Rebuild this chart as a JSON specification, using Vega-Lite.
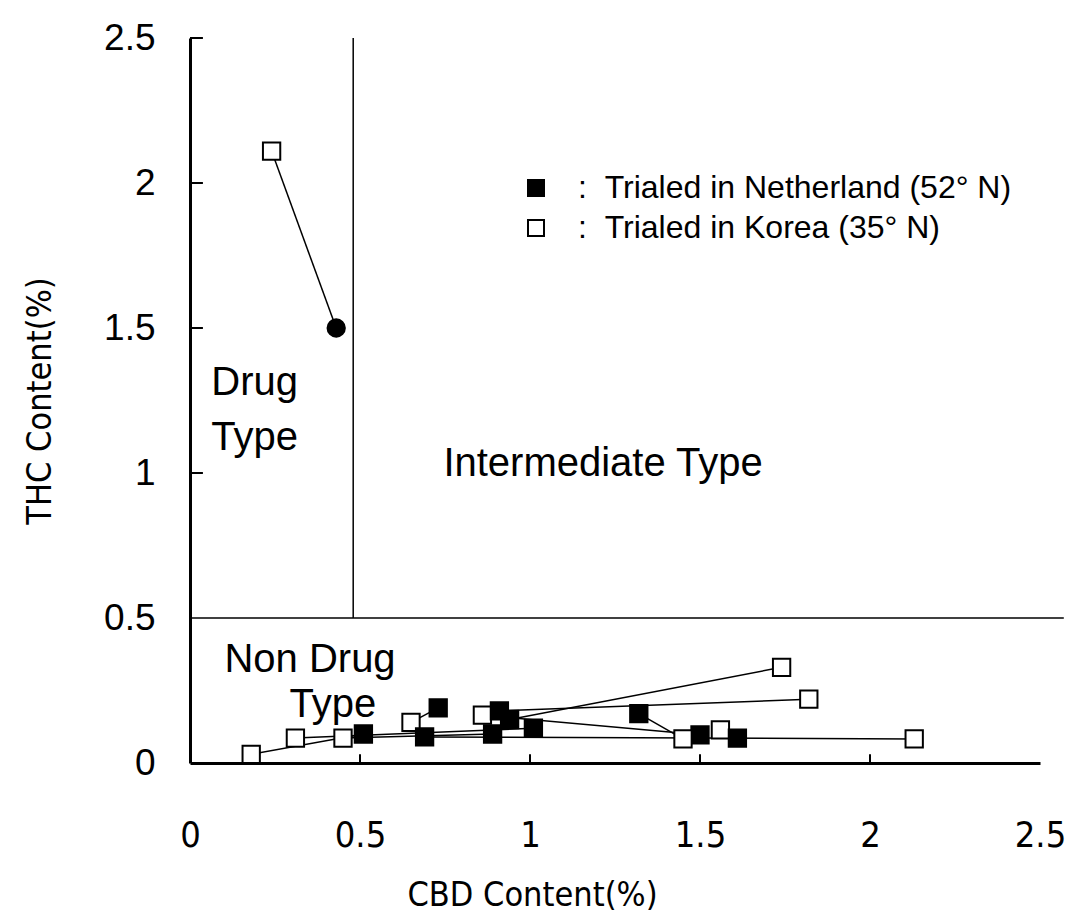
{
  "$schema": "https://vega.github.io/schema/vega-lite/v6.json",
  "autosize": {"type": "none"},
  "width": 850,
  "height": 725,
  "padding": {"left": 190, "top": 38, "right": 29, "bottom": 158},
  "background": "white",
  "config": {
    "view": {"stroke": null},
    "axis": {
      "domainColor": "black", "domainWidth": 3, "tickColor": "black", "tickWidth": 1.5,
      "grid": false, "labelColor": "black", "titleColor": "black", "titleFontWeight": "normal"
    }
  },
  "datasets": {
    "samples": [
      {"pair": "A", "loc": "Korea", "cbd": 0.24, "thc": 2.11, "marker": "square"},
      {"pair": "A", "loc": "Netherland", "cbd": 0.43, "thc": 1.50, "marker": "circle"},
      {"pair": "B", "loc": "Korea", "cbd": 0.18, "thc": 0.03, "marker": "square"},
      {"pair": "B", "loc": "Netherland", "cbd": 0.51, "thc": 0.10, "marker": "square"},
      {"pair": "C", "loc": "Korea", "cbd": 0.31, "thc": 0.086, "marker": "square"},
      {"pair": "C", "loc": "Netherland", "cbd": 1.01, "thc": 0.12, "marker": "square"},
      {"pair": "D", "loc": "Korea", "cbd": 0.45, "thc": 0.086, "marker": "square"},
      {"pair": "D", "loc": "Netherland", "cbd": 0.89, "thc": 0.10, "marker": "square"},
      {"pair": "E", "loc": "Korea", "cbd": 0.65, "thc": 0.14, "marker": "square"},
      {"pair": "E", "loc": "Netherland", "cbd": 0.73, "thc": 0.19, "marker": "square"},
      {"pair": "F", "loc": "Korea", "cbd": 0.86, "thc": 0.165, "marker": "square"},
      {"pair": "F", "loc": "Netherland", "cbd": 1.50, "thc": 0.097, "marker": "square"},
      {"pair": "G", "loc": "Korea", "cbd": 1.74, "thc": 0.33, "marker": "square"},
      {"pair": "G", "loc": "Netherland", "cbd": 0.94, "thc": 0.15, "marker": "square"},
      {"pair": "H", "loc": "Korea", "cbd": 1.82, "thc": 0.22, "marker": "square"},
      {"pair": "H", "loc": "Netherland", "cbd": 0.91, "thc": 0.18, "marker": "square"},
      {"pair": "I", "loc": "Korea", "cbd": 1.45, "thc": 0.083, "marker": "square"},
      {"pair": "I", "loc": "Netherland", "cbd": 1.32, "thc": 0.17, "marker": "square"},
      {"pair": "J", "loc": "Korea", "cbd": 2.13, "thc": 0.083, "marker": "square"},
      {"pair": "J", "loc": "Netherland", "cbd": 0.69, "thc": 0.09, "marker": "square"},
      {"pair": "K", "loc": "Korea", "cbd": 1.56, "thc": 0.114, "marker": "square"},
      {"pair": "K", "loc": "Netherland", "cbd": 1.61, "thc": 0.086, "marker": "square"}
    ],
    "regions": [
      {"x": 0.48, "x2": 0.48, "y": 0.5, "y2": 2.5},
      {"x": 0, "x2": 2.57, "y": 0.5, "y2": 0.5}
    ],
    "ticks": [
      {"x": 0, "x2": 0.038, "y": 2.5, "y2": 2.5},
      {"x": 0, "x2": 0.038, "y": 2.0, "y2": 2.0},
      {"x": 0, "x2": 0.038, "y": 1.5, "y2": 1.5},
      {"x": 0, "x2": 0.038, "y": 1.0, "y2": 1.0},
      {"x": 0.5, "x2": 0.5, "y": 0, "y2": 0.03},
      {"x": 1.0, "x2": 1.0, "y": 0, "y2": 0.03},
      {"x": 1.5, "x2": 1.5, "y": 0, "y2": 0.03},
      {"x": 2.0, "x2": 2.0, "y": 0, "y2": 0.03}
    ],
    "labels": [
      {"cbd": 0.19, "thc": 1.31, "text": "Drug"},
      {"cbd": 0.19, "thc": 1.12, "text": "Type"},
      {"cbd": 1.215, "thc": 1.03, "text": "Intermediate Type"},
      {"cbd": 0.353, "thc": 0.355, "text": "Non Drug"},
      {"cbd": 0.42, "thc": 0.2, "text": "Type"}
    ]
  },
  "layer": [
    {
      "data": {"name": "regions"},
      "mark": {"type": "rule", "color": "black", "strokeWidth": 1.5, "clip": false},
      "encoding": {
        "x": {"field": "x", "type": "quantitative", "scale": {"domain": [0, 2.5], "nice": false}},
        "x2": {"field": "x2"},
        "y": {"field": "y", "type": "quantitative", "scale": {"domain": [0, 2.5], "nice": false}},
        "y2": {"field": "y2"}
      }
    },
    {
      "data": {"name": "ticks"},
      "mark": {"type": "rule", "color": "black", "strokeWidth": 2},
      "encoding": {
        "x": {"field": "x", "type": "quantitative"},
        "x2": {"field": "x2"},
        "y": {"field": "y", "type": "quantitative"},
        "y2": {"field": "y2"}
      }
    },
    {
      "data": {"name": "labels"},
      "mark": {"type": "text", "font": "Liberation Sans", "fontSize": 40, "color": "black", "align": "center", "baseline": "middle"},
      "encoding": {
        "x": {"field": "cbd", "type": "quantitative"},
        "y": {"field": "thc", "type": "quantitative"},
        "text": {"field": "text"}
      }
    },
    {
      "data": {"name": "samples"},
      "mark": {"type": "line", "color": "black", "strokeWidth": 1.5},
      "encoding": {
        "x": {"field": "cbd", "type": "quantitative"},
        "y": {"field": "thc", "type": "quantitative"},
        "detail": {"field": "pair"}
      }
    },
    {
      "data": {"name": "samples"},
      "mark": {"type": "point", "filled": true, "stroke": "black", "strokeWidth": 2, "size": 300, "opacity": 1},
      "encoding": {
        "x": {
          "field": "cbd", "type": "quantitative",
          "scale": {"domain": [0, 2.5], "nice": false},
          "axis": {
            "values": [0, 0.5, 1, 1.5, 2, 2.5], "format": "~g",
            "ticks": false, "labelPadding": 55, "labelFlush": false, "labelOverlap": false,
            "labelFont": "DejaVu Sans Condensed", "labelFontSize": 36,
            "title": "CBD Content(%)", "titleFont": "DejaVu Sans Condensed", "titleFontSize": 34,
            "titleX": 342, "titleY": 132, "titleBaseline": "middle", "titleAnchor": "middle"
          }
        },
        "y": {
          "field": "thc", "type": "quantitative",
          "scale": {"domain": [0, 2.5], "nice": false},
          "axis": {
            "values": [0, 0.5, 1, 1.5, 2, 2.5], "format": "~g",
            "ticks": false, "labelPadding": 35, "labelFlush": false, "labelOverlap": false,
            "labelFont": "Liberation Sans", "labelFontSize": 37,
            "title": "THC Content(%)", "titleFont": "DejaVu Sans Condensed", "titleFontSize": 34,
            "titleX": -150, "titleBaseline": "middle"
          }
        },
        "fill": {
          "field": "loc", "type": "nominal",
          "scale": {"domain": ["Netherland", "Korea"], "range": ["black", "white"]},
          "legend": {
            "orient": "none", "legendX": 330, "legendY": 134,
            "title": null, "padding": 0, "rowPadding": 8,
            "symbolType": "square", "symbolSize": 256, "symbolStrokeColor": "black", "symbolStrokeWidth": 2,
            "symbolOpacity": 1,
            "labelFont": "Liberation Sans", "labelFontSize": 32, "labelColor": "black", "labelOffset": 26,
            "labelLimit": 600,
            "labelExpr": "datum.label == 'Netherland' ? ':\u00a0\u00a0Trialed in Netherland (52° N)' : ':\u00a0\u00a0Trialed in Korea (35° N)'"
          }
        },
        "shape": {
          "field": "marker", "type": "nominal",
          "scale": {"domain": ["square", "circle"], "range": ["square", "circle"]},
          "legend": null
        }
      }
    }
  ]
}
